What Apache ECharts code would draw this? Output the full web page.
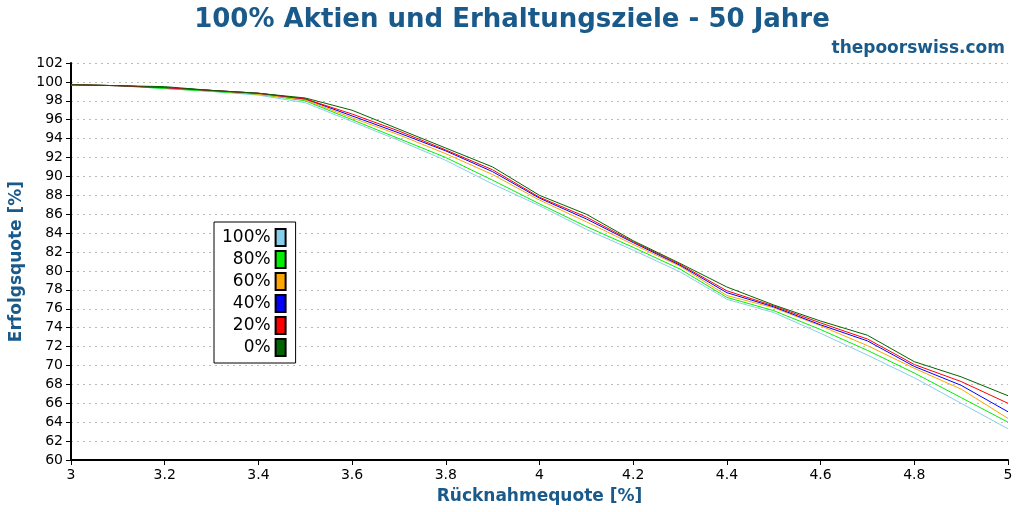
<!DOCTYPE html>
<html><head><meta charset="utf-8">
<script src="https://cdn.jsdelivr.net/npm/echarts@6/dist/echarts.min.js"></script>
<style>body{margin:0}#c{width:1024px;height:512px}</style></head>
<body><div id="c"></div>
<script>
var rates = [3.0,3.1,3.2,3.3,3.4,3.5,3.6,3.7,3.8,3.9,4.0,4.1,4.2,4.3,4.4,4.5,4.6,4.7,4.8,4.9,5.0];
var s100 = [99.7,99.6,99.3,99.0,98.6,97.8,95.8,93.8,91.7,89.2,86.9,84.4,82.2,79.9,77.0,75.6,73.4,71.1,68.7,66.0,63.3];
var s80  = [99.7,99.6,99.3,99.0,98.7,98.0,96.0,94.0,92.0,89.6,87.1,84.7,82.5,80.2,77.2,75.8,73.8,71.6,69.2,66.6,64.0];
var s60  = [99.7,99.6,99.4,99.1,98.7,98.1,96.2,94.4,92.4,90.2,87.5,85.2,82.8,80.5,77.4,76.1,74.2,72.1,69.7,67.5,64.4];
var s40  = [99.7,99.6,99.4,99.1,98.8,98.2,96.4,94.6,92.7,90.5,87.7,85.5,83.0,80.6,77.7,76.2,74.3,72.6,69.9,67.9,65.1];
var s20  = [99.7,99.6,99.4,99.1,98.8,98.2,96.6,94.8,92.8,90.7,87.8,85.7,83.1,80.7,77.9,76.3,74.5,72.8,70.1,68.3,66.0];
var s0   = [99.7,99.6,99.5,99.1,98.8,98.3,97.0,95.0,93.0,91.0,88.0,86.0,83.2,80.8,78.3,76.4,74.7,73.2,70.4,68.8,66.8];
var names = ['100%','80%','60%','40%','20%','0%'];
var colors = ['#87ceeb','#00ee00','#ffa500','#0000ff','#ff0000','#006400'];
var all = [s100,s80,s60,s40,s20,s0];
var titleColor = '#1a5a8a';

var series = all.map(function(d, i) {
  return {
    name: names[i], type: 'line', symbol: 'none',
    data: d.map(function(v, j) { return [rates[j], v]; }),
    lineStyle: { width: 1, color: colors[i] },
    itemStyle: { color: colors[i], borderColor: '#000', borderWidth: 1 }
  };
});

var chart = echarts.init(document.getElementById('c'));
chart.setOption({
  animation: false,
  title: [
    { text: '100% Aktien und Erhaltungsziele - 50 Jahre', left: 'center', top: 2,
      textStyle: { color: titleColor, fontSize: 26, fontWeight: 'bold', fontFamily: 'DejaVu Sans' } },
    { text: 'thepoorswiss.com', right: 14, top: 35,
      textStyle: { color: titleColor, fontSize: 17, fontWeight: 'bold', fontFamily: 'DejaVu Sans' } }
  ],
  legend: {
    data: names.slice(), orient: 'vertical', left: 214, top: 222,
    align: 'right', itemWidth: 10, itemHeight: 17, itemGap: 3, icon: 'rect',
    borderColor: '#000', borderWidth: 1, padding: [6, 9, 6, 8], backgroundColor: '#fff',
    textStyle: { fontSize: 17, fontFamily: 'DejaVu Sans', color: '#000' }
  },
  grid: { left: 70, right: 16, top: 63, bottom: 52 },
  xAxis: {
    type: 'value', min: 3, max: 5, interval: 0.2,
    name: 'Rücknahmequote [%]', nameLocation: 'middle', nameGap: 28,
    nameTextStyle: { color: titleColor, fontSize: 17, fontWeight: 'bold', fontFamily: 'DejaVu Sans' },
    axisLine: { lineStyle: { color: '#000', width: 2 } },
    axisTick: { lineStyle: { color: '#000' } },
    axisLabel: { color: '#000', fontSize: 14, fontFamily: 'DejaVu Sans',
      formatter: function(v) { return String(Math.round(v * 10) / 10); } },
    splitLine: { show: false }
  },
  yAxis: {
    type: 'value', min: 60, max: 102, interval: 2,
    name: 'Erfolgsquote [%]', nameLocation: 'middle', nameGap: 46,
    nameTextStyle: { color: titleColor, fontSize: 17, fontWeight: 'bold', fontFamily: 'DejaVu Sans' },
    axisLine: { show: true, lineStyle: { color: '#000', width: 2 } },
    axisTick: { show: true, lineStyle: { color: '#000' } },
    axisLabel: { color: '#000', fontSize: 14, fontFamily: 'DejaVu Sans' },
    splitLine: { lineStyle: { color: '#bbb', type: [2, 4] } }
  },
  series: series
});
</script></body></html>
